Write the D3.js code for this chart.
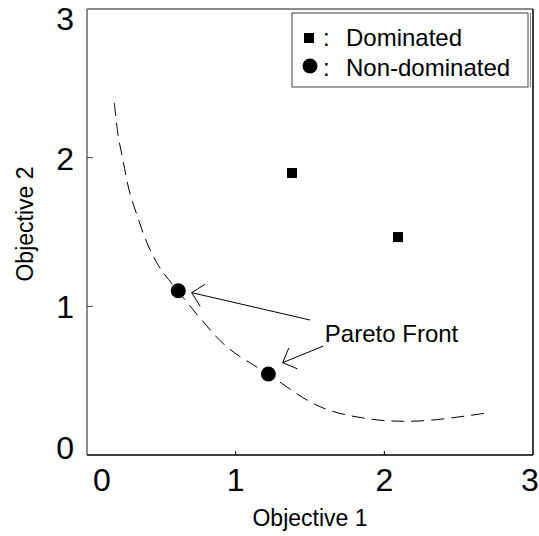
<!DOCTYPE html>
<html>
<head>
<meta charset="utf-8">
<script src="https://cdn.jsdelivr.net/npm/d3@7"></script>
<style>
  body { margin: 0; background: #fff; }
  text { font-family: "Liberation Sans", Arial, sans-serif; fill: #000; }
</style>
</head>
<body>
<div id="chart"></div>
<script>
// 1: DATA
const dominated = [[1.379, 1.897], [2.092, 1.466]];
const nonDominated = [[0.614, 1.105], [1.22, 0.545]];
const frontCurve = [
  [0.184, 2.368], [0.209, 2.152], [0.242, 1.984], [0.283, 1.782], [0.336, 1.614],
  [0.410, 1.412], [0.491, 1.258], [0.612, 1.103], [0.760, 0.922], [0.940, 0.728],
  [1.217, 0.545], [1.567, 0.325], [1.904, 0.242], [2.240, 0.229], [2.690, 0.283]
];
// arrows: [from, to] in data units
const arrows = [
  [[1.50, 0.908], [0.704, 1.092]],
  [[1.59, 0.733], [1.316, 0.621]]
];
const xTicks = [0, 1, 2, 3];
const yTicks = [0, 1, 2, 3];
const legendLabels = ["Dominated", "Non-dominated"];
const annotation = "Pareto Front";
const xTitle = "Objective 1";
const yTitle = "Objective 2";

// 2: SIZES
const W = 539, H = 536;
const margin = { top: 9, right: 6, bottom: 81, left: 87 };
const width = W - margin.left - margin.right;
const height = H - margin.top - margin.bottom;

const svg = d3.select("#chart").append("svg")
  .attr("width", W).attr("height", H);
const g = svg.append("g")
  .attr("transform", `translate(${margin.left},${margin.top})`);

// 3: SCALES
const x = d3.scaleLinear().domain([0, 3]).range([0, width]);
const y = d3.scaleLinear().domain([0, 3]).range([height, 0]);

// 4: FRAME
g.append("line").attr("x1", 0).attr("x2", 0).attr("y1", 0).attr("y2", height)
  .attr("stroke", "#666").attr("stroke-width", 1.5);
g.append("line").attr("x1", 0).attr("x2", width).attr("y1", 0).attr("y2", 0)
  .attr("stroke", "#666").attr("stroke-width", 1.5);
g.append("line").attr("x1", 0).attr("x2", width).attr("y1", height).attr("y2", height)
  .attr("stroke", "#000").attr("stroke-width", 1.5);
g.append("line").attr("x1", width).attr("x2", width).attr("y1", 0).attr("y2", height)
  .attr("stroke", "#000").attr("stroke-width", 1.5);

// tick marks (inside) at interior values
g.selectAll(".xt").data(xTicks.slice(1, -1)).enter().append("line")
  .attr("x1", d => x(d)).attr("x2", d => x(d))
  .attr("y1", height).attr("y2", height - 4)
  .attr("stroke", "#000");
g.selectAll(".yt").data(yTicks.slice(1, -1)).enter().append("line")
  .attr("x1", 0).attr("x2", 6)
  .attr("y1", d => y(d)).attr("y2", d => y(d))
  .attr("stroke", "#444");

// tick labels, kept inside the frame extent
g.selectAll(".xl").data(xTicks).enter().append("text")
  .attr("x", d => Math.max(15, Math.min(width - 3, x(d))))
  .attr("y", height + 36)
  .attr("text-anchor", "middle")
  .style("font-size", "32px")
  .text(d => d);
g.selectAll(".yl").data(yTicks).enter().append("text")
  .attr("x", -13)
  .attr("y", d => Math.max(9, Math.min(height - 8, y(d))) + 12)
  .attr("text-anchor", "end")
  .style("font-size", "32px")
  .text(d => d);

// axis titles
svg.append("text")
  .attr("x", margin.left + width / 2 + 0)
  .attr("y", 526)
  .attr("text-anchor", "middle")
  .style("font-size", "23px")
  .text(xTitle);
svg.append("text")
  .attr("transform", `translate(33,${margin.top + height / 2 - 8}) rotate(-90)`)
  .attr("text-anchor", "middle")
  .style("font-size", "23px")
  .text(yTitle);

// 5: PARETO CURVE
const line = d3.line()
  .x(d => x(d[0])).y(d => y(d[1]))
  .curve(d3.curveCatmullRom);
g.append("path")
  .datum(frontCurve)
  .attr("fill", "none")
  .attr("stroke", "#000")
  .attr("stroke-width", 1)
  .attr("stroke-dasharray", "13,7")
  .attr("d", line);

// 6: POINTS
g.selectAll(".dom").data(dominated).enter().append("rect")
  .attr("x", d => x(d[0]) - 5).attr("y", d => y(d[1]) - 5)
  .attr("width", 10).attr("height", 10)
  .attr("fill", "#000");
g.selectAll(".nd").data(nonDominated).enter().append("circle")
  .attr("cx", d => x(d[0])).attr("cy", d => y(d[1]))
  .attr("r", 7.5)
  .attr("fill", "#000");

// 7: ARROWS + ANNOTATION
arrows.forEach(([from, to]) => {
  const x0 = x(from[0]), y0 = y(from[1]), x1 = x(to[0]), y1 = y(to[1]);
  g.append("line").attr("x1", x0).attr("y1", y0).attr("x2", x1).attr("y2", y1)
    .attr("stroke", "#000").attr("stroke-width", 1);
  const ang = Math.atan2(y0 - y1, x0 - x1);
  [-Math.PI / 4, Math.PI / 4].forEach(da => {
    g.append("line")
      .attr("x1", x1).attr("y1", y1)
      .attr("x2", x1 + 16 * Math.cos(ang + da))
      .attr("y2", y1 + 16 * Math.sin(ang + da))
      .attr("stroke", "#000").attr("stroke-width", 1);
  });
});
g.append("text")
  .attr("x", x(1.6))
  .attr("y", y(0.76))
  .style("font-size", "24px")
  .text(annotation);

// 8: LEGEND
const legend = svg.append("g").attr("transform", "translate(292,13)");
legend.append("rect")
  .attr("width", 236).attr("height", 74)
  .attr("fill", "#fff").attr("stroke", "#444").attr("stroke-width", 1);
legend.append("line").attr("x1", 238.5).attr("x2", 238.5).attr("y1", 0).attr("y2", 74)
  .attr("stroke", "#888");
legend.selectAll(".lt").data(legendLabels).enter().append("text")
  .attr("x", 54)
  .attr("y", (d, i) => 33 + i * 30)
  .style("font-size", "24px")
  .text(d => d);
legend.selectAll(".colon").data(legendLabels).enter().append("text")
  .attr("x", 31)
  .attr("y", (d, i) => 33 + i * 30)
  .style("font-size", "24px")
  .text(":");
legend.append("rect").attr("x", 12).attr("y", 20).attr("width", 10).attr("height", 10).attr("fill", "#000");
legend.append("circle").attr("cx", 18).attr("cy", 53).attr("r", 7.5).attr("fill", "#000");
</script>
</body>
</html>
